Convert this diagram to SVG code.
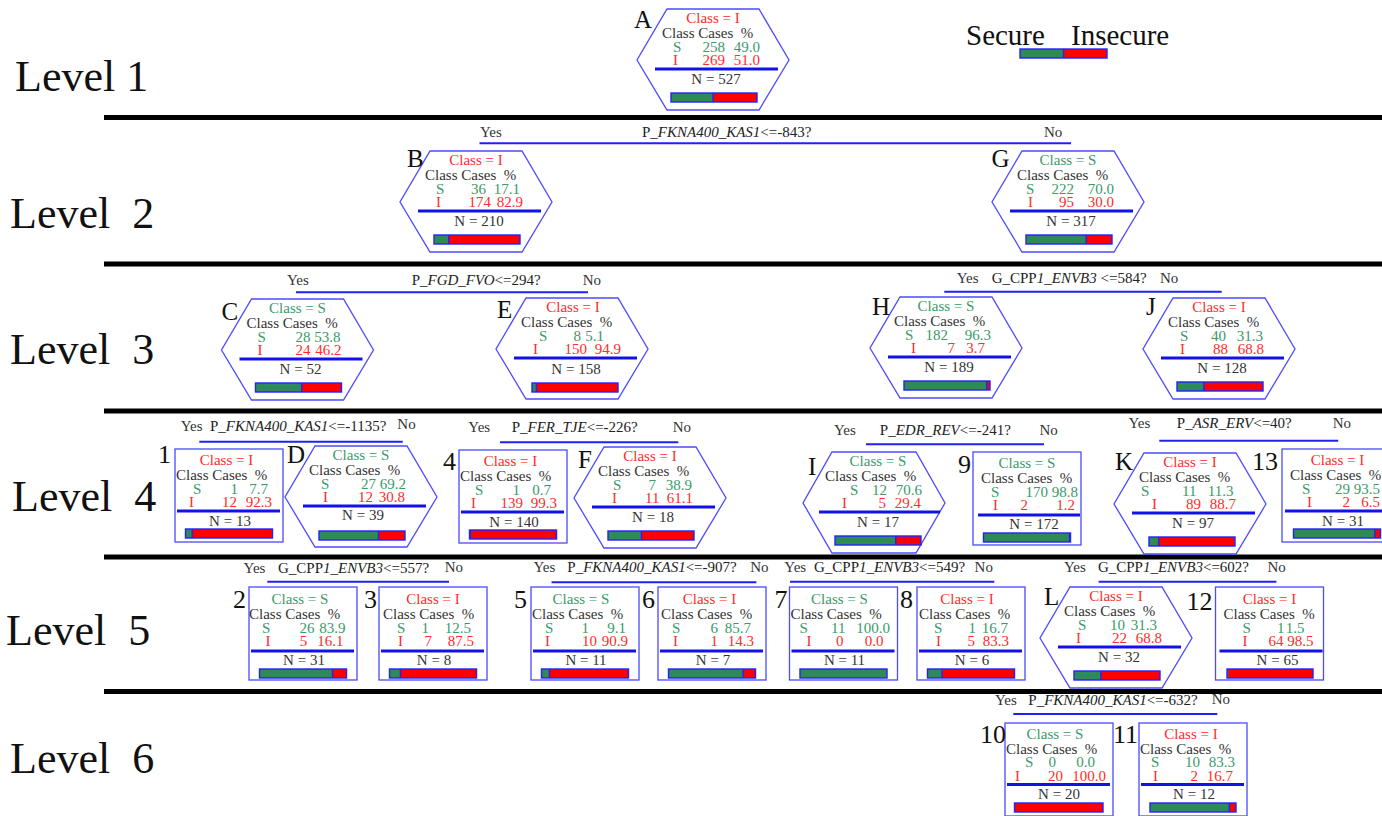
<svg xmlns="http://www.w3.org/2000/svg" xmlns:xlink="http://www.w3.org/1999/xlink" width="1382" height="816" viewBox="0 0 1382 816">
<style>
text{font-family:"Liberation Serif","Times New Roman",serif}
.lvl{font-size:44px;fill:#111}
.t{font-size:15px}
.m{text-anchor:middle}
.cr{fill:#ff2b2b}
.cg{fill:#3a9a6a}
.ck{fill:#333}
.lab{font-size:25px;fill:#111}
.num{font-size:26px;fill:#111}
.hex,.box{fill:#fff;stroke:#4b4bff;stroke-width:1.3}
.sep{stroke:#1212e8;stroke-width:3}
.con{stroke:#2020f0;stroke-width:2}
.band{stroke:#000;stroke-width:5}
.bg{fill:#2e8b57}
.br{fill:#ff0000}
.bo{fill:none;stroke:#2222ff;stroke-width:1.4}
.bd{stroke:#2222ff;stroke-width:1.4}
.cond{font-size:15px;fill:#222}
.yn{font-size:15px;fill:#333}
</style>
<defs>
<polygon id="hx" class="hex" points="-46,0 46,0 76,51 46,101 -46,101 -76,51"/>
<rect id="bx" class="box" x="-54" y="0" width="108" height="93"/>
</defs>
<rect width="1382" height="816" fill="#fff"/>

<g id="levels">
<text class="lvl" x="15" y="91">Level 1</text>
<text class="lvl" x="10" y="228" xml:space="preserve">Level  2</text>
<text class="lvl" x="10" y="364" xml:space="preserve">Level  3</text>
<text class="lvl" x="12" y="511" xml:space="preserve">Level  4</text>
<text class="lvl" x="6" y="645" xml:space="preserve">Level  5</text>
<text class="lvl" x="10" y="773" xml:space="preserve">Level  6</text>
<line class="band" x1="104" y1="117.5" x2="1382" y2="117.5"/>
<line class="band" x1="104" y1="264" x2="1382" y2="264"/>
<line class="band" x1="104" y1="411" x2="1382" y2="411"/>
<line class="band" x1="104" y1="557" x2="1382" y2="557"/>
<line class="band" x1="104" y1="691.5" x2="1382" y2="691.5"/>
</g>

<g id="legend">
<text x="966" y="45" font-size="29" fill="#111">Secure</text>
<text x="1071" y="45" font-size="29" fill="#111">Insecure</text>
<rect class="br" x="1020" y="49" width="87" height="9"/>
<rect class="bg" x="1020" y="49" width="43.5" height="9"/>
<line class="bd" x1="1063.5" y1="49" x2="1063.5" y2="58"/>
<rect class="bo" x="1020" y="49" width="87" height="9"/>
</g>

<g id="connectors">
<line class="con" x1="479.5" y1="143.3" x2="1071" y2="143.3"/>
<text class="yn" x="480" y="137">Yes</text><text class="yn" x="1044" y="137">No</text>
<text class="cond" x="642" y="137">P_<tspan font-style="italic">FKNA400_KAS1</tspan>&lt;=-843?</text>

<line class="con" x1="296" y1="292.3" x2="588" y2="292.3"/>
<text class="yn" x="287" y="285">Yes</text><text class="yn" x="582.7" y="285">No</text>
<text class="cond" x="411.7" y="285">P_<tspan font-style="italic">FGD_FVO</tspan>&lt;=294?</text>

<line class="con" x1="944.3" y1="291.7" x2="1221.7" y2="291.7"/>
<text class="yn" x="956.7" y="283">Yes</text><text class="yn" x="1160" y="283">No</text>
<text class="cond" x="991.7" y="283" xml:space="preserve">G_CPP<tspan font-style="italic">1_ENVB3</tspan> &lt;=584?</text>

<line class="con" x1="199.3" y1="441.7" x2="402.7" y2="441.7"/>
<text class="yn" x="180.7" y="431">Yes</text><text class="yn" x="397.3" y="429.3">No</text>
<text class="cond" x="210" y="431">P_<tspan font-style="italic">FKNA400_KAS1</tspan>&lt;=-1135?</text>

<line class="con" x1="500" y1="442.3" x2="678.3" y2="442.3"/>
<text class="yn" x="468.3" y="432">Yes</text><text class="yn" x="672.7" y="432">No</text>
<text class="cond" x="511.7" y="432">P_<tspan font-style="italic">FER_TJE</tspan>&lt;=-226?</text>

<line class="con" x1="866" y1="444.3" x2="1044" y2="444.3"/>
<text class="yn" x="834" y="435">Yes</text><text class="yn" x="1039.4" y="435">No</text>
<text class="cond" x="879.8" y="435">P_<tspan font-style="italic">EDR_REV</tspan>&lt;=-241?</text>

<line class="con" x1="1159.3" y1="440.7" x2="1338.2" y2="440.7"/>
<text class="yn" x="1128.5" y="428.3">Yes</text><text class="yn" x="1332.7" y="428.3">No</text>
<text class="cond" x="1176.8" y="428.3">P_<tspan font-style="italic">ASR_ERV</tspan>&lt;=40?</text>

<line class="con" x1="267.3" y1="581.7" x2="449" y2="581.7"/>
<text class="yn" x="243.6" y="573">Yes</text><text class="yn" x="444.7" y="572">No</text>
<text class="cond" x="278" y="573">G_CPP<tspan font-style="italic">1_ENVB3</tspan>&lt;=557?</text>

<line class="con" x1="551.6" y1="582.3" x2="756.4" y2="582.3"/>
<text class="yn" x="533.5" y="572">Yes</text><text class="yn" x="750.2" y="572">No</text>
<text class="cond" x="567.3" y="572">P_<tspan font-style="italic">FKNA400_KAS1</tspan>&lt;=-907?</text>

<line class="con" x1="790" y1="581.7" x2="994.3" y2="581.7"/>
<text class="yn" x="784.3" y="572">Yes</text><text class="yn" x="974.6" y="572">No</text>
<text class="cond" x="814" y="572">G_CPP<tspan font-style="italic">1_ENVB3</tspan>&lt;=549?</text>

<line class="con" x1="1098.6" y1="581.7" x2="1276.4" y2="581.7"/>
<text class="yn" x="1064" y="572">Yes</text><text class="yn" x="1267.5" y="572">No</text>
<text class="cond" x="1097.9" y="572">G_CPP<tspan font-style="italic">1_ENVB3</tspan>&lt;=602?</text>

<line class="con" x1="1013.3" y1="714" x2="1217.3" y2="714"/>
<text class="yn" x="995" y="705">Yes</text><text class="yn" x="1211.7" y="704">No</text>
<text class="cond" x="1028.3" y="705">P_<tspan font-style="italic">FKNA400_KAS1</tspan>&lt;=-632?</text>
</g>

<!-- hexagon nodes -->
<g id="node-A" transform="translate(713,9)">
<use xlink:href="#hx"/>
<text class="lab" x="-79" y="19">A</text>
<text class="t cr m" x="0" y="14">Class = I</text>
<text class="t ck" x="-51" y="29" xml:space="preserve">Class Cases  %</text>
<text class="t cg" y="43"><tspan x="-40">S</tspan><tspan x="-10.5">258</tspan><tspan x="20.75">49.0</tspan></text>
<text class="t cr" y="56"><tspan x="-40">I</tspan><tspan x="-10.5">269</tspan><tspan x="20.75">51.0</tspan></text>
<line class="sep" x1="-58" y1="60" x2="65" y2="60"/>
<text class="t ck m" x="3" y="75">N = 527</text>
<rect class="br" x="-42" y="84" width="86" height="9"/><rect class="bg" x="-42" y="84" width="42.1" height="9"/><line class="bd" x1="0.1" y1="84" x2="0.1" y2="93"/><rect class="bo" x="-42" y="84" width="86" height="9"/>
</g>

<g id="node-B" transform="translate(476,151)">
<use xlink:href="#hx"/>
<text class="lab" x="-69" y="16">B</text>
<text class="t cr m" x="0" y="14">Class = I</text>
<text class="t ck" x="-51" y="29" xml:space="preserve">Class Cases  %</text>
<text class="t cg" y="43"><tspan x="-40">S</tspan><tspan x="-5">36</tspan><tspan x="17.75">17.1</tspan></text>
<text class="t cr" y="56"><tspan x="-40">I</tspan><tspan x="-7.5">174</tspan><tspan x="20.75">82.9</tspan></text>
<line class="sep" x1="-58" y1="60" x2="65" y2="60"/>
<text class="t ck m" x="3" y="75">N = 210</text>
<rect class="br" x="-42" y="84" width="86" height="9"/><rect class="bg" x="-42" y="84" width="14.7" height="9"/><line class="bd" x1="-27.3" y1="84" x2="-27.3" y2="93"/><rect class="bo" x="-42" y="84" width="86" height="9"/>
</g>

<g id="node-G" transform="translate(1068,151)">
<use xlink:href="#hx"/>
<text class="lab" x="-76.5" y="16">G</text>
<text class="t cg m" x="0" y="14">Class = S</text>
<text class="t ck" x="-51" y="29" xml:space="preserve">Class Cases  %</text>
<text class="t cg" y="43"><tspan x="-42">S</tspan><tspan x="-16.5">222</tspan><tspan x="19.75">70.0</tspan></text>
<text class="t cr" y="56"><tspan x="-40">I</tspan><tspan x="-9">95</tspan><tspan x="19.75">30.0</tspan></text>
<line class="sep" x1="-58" y1="60" x2="65" y2="60"/>
<text class="t ck m" x="3" y="75">N = 317</text>
<rect class="br" x="-42" y="84" width="86" height="9"/><rect class="bg" x="-42" y="84" width="60.2" height="9"/><line class="bd" x1="18.2" y1="84" x2="18.2" y2="93"/><rect class="bo" x="-42" y="84" width="86" height="9"/>
</g>

<g id="node-C" transform="translate(297.5,299)">
<use xlink:href="#hx"/>
<text class="lab" x="-76" y="21">C</text>
<text class="t cg m" x="0" y="14">Class = S</text>
<text class="t ck" x="-51" y="29" xml:space="preserve">Class Cases  %</text>
<text class="t cg" y="43"><tspan x="-40">S</tspan><tspan x="-2">28</tspan><tspan x="16.75">53.8</tspan></text>
<text class="t cr" y="56"><tspan x="-40">I</tspan><tspan x="-2">24</tspan><tspan x="17.75">46.2</tspan></text>
<line class="sep" x1="-58" y1="60" x2="65" y2="60"/>
<text class="t ck m" x="3" y="75">N = 52</text>
<rect class="br" x="-42" y="84" width="86" height="9"/><rect class="bg" x="-42" y="84" width="46.3" height="9"/><line class="bd" x1="4.3" y1="84" x2="4.3" y2="93"/><rect class="bo" x="-42" y="84" width="86" height="9"/>
</g>

<g id="node-E" transform="translate(572,298)">
<use xlink:href="#hx"/>
<text class="lab" x="-75" y="20">E</text>
<text class="t cr m" x="1" y="14">Class = I</text>
<text class="t ck" x="-51" y="29" xml:space="preserve">Class Cases  %</text>
<text class="t cg" y="43"><tspan x="-33">S</tspan><tspan x="1.5">8</tspan><tspan x="13.25">5.1</tspan></text>
<text class="t cr" y="56"><tspan x="-39">I</tspan><tspan x="-7.5">150</tspan><tspan x="22.75">94.9</tspan></text>
<line class="sep" x1="-58" y1="60" x2="65" y2="60"/>
<text class="t ck m" x="4" y="76">N = 158</text>
<rect class="br" x="-40" y="85" width="86" height="9"/><rect class="bg" x="-40" y="85" width="4.4" height="9"/><line class="bd" x1="-35.6" y1="85" x2="-35.6" y2="94"/><rect class="bo" x="-40" y="85" width="86" height="9"/>
</g>

<g id="node-H" transform="translate(946,297)">
<use xlink:href="#hx"/>
<text class="lab" x="-74" y="18">H</text>
<text class="t cg m" x="0" y="14">Class = S</text>
<text class="t ck" x="-52" y="29" xml:space="preserve">Class Cases  %</text>
<text class="t cg" y="43"><tspan x="-41">S</tspan><tspan x="-20.5">182</tspan><tspan x="18.75">96.3</tspan></text>
<text class="t cr" y="56"><tspan x="-35">I</tspan><tspan x="1.5">7</tspan><tspan x="20.25">3.7</tspan></text>
<line class="sep" x1="-58" y1="60" x2="65" y2="60"/>
<text class="t ck m" x="3" y="75">N = 189</text>
<rect class="br" x="-42" y="84" width="86" height="9"/><rect class="bg" x="-42" y="84" width="82.8" height="9"/><line class="bd" x1="40.8" y1="84" x2="40.8" y2="93"/><rect class="bo" x="-42" y="84" width="86" height="9"/>
</g>

<g id="node-J" transform="translate(1219,298)">
<use xlink:href="#hx"/>
<text class="lab" x="-73" y="17">J</text>
<text class="t cr m" x="0" y="14">Class = I</text>
<text class="t ck" x="-51" y="29" xml:space="preserve">Class Cases  %</text>
<text class="t cg" y="43"><tspan x="-39">S</tspan><tspan x="-8">40</tspan><tspan x="17.75">31.3</tspan></text>
<text class="t cr" y="56"><tspan x="-39">I</tspan><tspan x="-6">88</tspan><tspan x="18.75">68.8</tspan></text>
<line class="sep" x1="-58" y1="60" x2="65" y2="60"/>
<text class="t ck m" x="3" y="75">N = 128</text>
<rect class="br" x="-42" y="84" width="86" height="9"/><rect class="bg" x="-42" y="84" width="26.9" height="9"/><line class="bd" x1="-15.1" y1="84" x2="-15.1" y2="93"/><rect class="bo" x="-42" y="84" width="86" height="9"/>
</g>

<g id="node-D" transform="translate(361,446)">
<use xlink:href="#hx"/>
<text class="lab" x="-74" y="17">D</text>
<text class="t cg m" x="0" y="14">Class = S</text>
<text class="t ck" x="-52" y="29" xml:space="preserve">Class Cases  %</text>
<text class="t cg" y="43"><tspan x="-40">S</tspan><tspan x="0">27</tspan><tspan x="18.75">69.2</tspan></text>
<text class="t cr" y="56"><tspan x="-38">I</tspan><tspan x="-3">12</tspan><tspan x="17.75">30.8</tspan></text>
<line class="sep" x1="-58" y1="60" x2="65" y2="60"/>
<text class="t ck m" x="2" y="74">N = 39</text>
<rect class="br" x="-42" y="85" width="86" height="9"/><rect class="bg" x="-42" y="85" width="59.5" height="9"/><line class="bd" x1="17.5" y1="85" x2="17.5" y2="94"/><rect class="bo" x="-42" y="85" width="86" height="9"/>
</g>

<g id="node-F" transform="translate(650,447)">
<use xlink:href="#hx"/>
<text class="lab" x="-72" y="21">F</text>
<text class="t cr m" x="0" y="14">Class = I</text>
<text class="t ck" x="-52" y="29" xml:space="preserve">Class Cases  %</text>
<text class="t cg" y="43"><tspan x="-37">S</tspan><tspan x="-1.5">7</tspan><tspan x="15.75">38.9</tspan></text>
<text class="t cr" y="56"><tspan x="-38">I</tspan><tspan x="-5">11</tspan><tspan x="16.75">61.1</tspan></text>
<line class="sep" x1="-58" y1="60" x2="65" y2="60"/>
<text class="t ck m" x="3" y="75">N = 18</text>
<rect class="br" x="-42" y="84" width="86" height="9"/><rect class="bg" x="-42" y="84" width="33.5" height="9"/><line class="bd" x1="-8.5" y1="84" x2="-8.5" y2="93"/><rect class="bo" x="-42" y="84" width="86" height="9"/>
</g>

<g id="node-I" transform="translate(875,452)">
<polygon class="hex" points="-43,0 41,0 70,51 41,101 -43,101 -72,51"/>
<text class="lab" x="-67" y="23">I</text>
<text class="t cg m" x="3" y="14">Class = S</text>
<text class="t ck" x="-50" y="29" xml:space="preserve">Class Cases  %</text>
<text class="t cg" y="43"><tspan x="-25">S</tspan><tspan x="-3">12</tspan><tspan x="20.75">70.6</tspan></text>
<text class="t cr" y="56"><tspan x="-33">I</tspan><tspan x="3.5">5</tspan><tspan x="19.75">29.4</tspan></text>
<line class="sep" x1="-56" y1="60" x2="65" y2="60"/>
<text class="t ck m" x="3" y="75">N = 17</text>
<rect class="br" x="-40" y="84" width="86" height="9"/><rect class="bg" x="-40" y="84" width="60.7" height="9"/><line class="bd" x1="20.7" y1="84" x2="20.7" y2="93"/><rect class="bo" x="-40" y="84" width="86" height="9"/>
</g>

<g id="node-K" transform="translate(1190,453)">
<use xlink:href="#hx"/>
<text class="lab" x="-75" y="17">K</text>
<text class="t cr m" x="0" y="14">Class = I</text>
<text class="t ck" x="-51" y="29" xml:space="preserve">Class Cases  %</text>
<text class="t cg" y="43"><tspan x="-49">S</tspan><tspan x="-8">11</tspan><tspan x="17.75">11.3</tspan></text>
<text class="t cr" y="56"><tspan x="-38">I</tspan><tspan x="-4">89</tspan><tspan x="19.75">88.7</tspan></text>
<line class="sep" x1="-58" y1="60" x2="65" y2="60"/>
<text class="t ck m" x="3" y="75">N = 97</text>
<rect class="br" x="-41" y="84" width="86" height="9"/><rect class="bg" x="-41" y="84" width="9.7" height="9"/><line class="bd" x1="-31.3" y1="84" x2="-31.3" y2="93"/><rect class="bo" x="-41" y="84" width="86" height="9"/>
</g>

<g id="node-L" transform="translate(1116,587)">
<use xlink:href="#hx"/>
<text class="lab" x="-72" y="18">L</text>
<text class="t cr m" x="0" y="14">Class = I</text>
<text class="t ck" x="-52" y="29" xml:space="preserve">Class Cases  %</text>
<text class="t cg" y="43"><tspan x="-38">S</tspan><tspan x="-6">10</tspan><tspan x="14.75">31.3</tspan></text>
<text class="t cr" y="56"><tspan x="-40">I</tspan><tspan x="-4">22</tspan><tspan x="19.75">68.8</tspan></text>
<line class="sep" x1="-58" y1="60" x2="65" y2="60"/>
<text class="t ck m" x="3" y="75">N = 32</text>
<rect class="br" x="-42" y="84" width="86" height="9"/><rect class="bg" x="-42" y="84" width="26.9" height="9"/><line class="bd" x1="-15.1" y1="84" x2="-15.1" y2="93"/><rect class="bo" x="-42" y="84" width="86" height="9"/>
</g>

<!-- rectangular (leaf) nodes -->
<g id="node-1" transform="translate(229,449)">
<use xlink:href="#bx"/>
<text class="num" x="-71" y="14">1</text>
<text class="t cr m" x="-2.5" y="16">Class = I</text>
<text class="t ck" x="-53" y="31" xml:space="preserve">Class Cases  %</text>
<text class="t cg" y="45"><tspan x="-36">S</tspan><tspan x="1.5">1</tspan><tspan x="20.25">7.7</tspan></text>
<text class="t cr" y="57.5"><tspan x="-40">I</tspan><tspan x="-7">12</tspan><tspan x="16.75">92.3</tspan></text>
<line class="sep" x1="-52" y1="62" x2="51" y2="62"/>
<text class="t ck m" x="1" y="76.5">N = 13</text>
<rect class="br" x="-43.5" y="80" width="87" height="9"/><rect class="bg" x="-43.5" y="80" width="6.7" height="9"/><line class="bd" x1="-36.8" y1="80" x2="-36.8" y2="89"/><rect class="bo" x="-43.5" y="80" width="87" height="9"/>
</g>

<g id="node-4" transform="translate(513,450)">
<use xlink:href="#bx"/>
<text class="num" x="-70" y="20">4</text>
<text class="t cr m" x="-2.5" y="16">Class = I</text>
<text class="t ck" x="-53" y="31" xml:space="preserve">Class Cases  %</text>
<text class="t cg" y="45"><tspan x="-38">S</tspan><tspan x="-0.5">1</tspan><tspan x="19.25">0.7</tspan></text>
<text class="t cr" y="57.5"><tspan x="-42">I</tspan><tspan x="-12.5">139</tspan><tspan x="17.75">99.3</tspan></text>
<line class="sep" x1="-52" y1="62" x2="51" y2="62"/>
<text class="t ck m" x="1" y="76.5">N = 140</text>
<rect class="br" x="-43.5" y="80" width="87" height="9"/><rect class="bg" x="-43.5" y="80" width="0.8" height="9"/><line class="bd" x1="-42.7" y1="80" x2="-42.7" y2="89"/><rect class="bo" x="-43.5" y="80" width="87" height="9"/>
</g>

<g id="node-9" transform="translate(1027,452)">
<use xlink:href="#bx"/>
<text class="num" x="-69" y="21">9</text>
<text class="t cg m" x="0" y="16">Class = S</text>
<text class="t ck" x="-46" y="31" xml:space="preserve">Class Cases  %</text>
<text class="t cg" y="45"><tspan x="-36">S</tspan><tspan x="-1.5">170</tspan><tspan x="24.75">98.8</tspan></text>
<text class="t cr" y="57.5"><tspan x="-34">I</tspan><tspan x="-6.5">2</tspan><tspan x="29.25">1.2</tspan></text>
<line class="sep" x1="-49" y1="63" x2="53" y2="63"/>
<text class="t ck m" x="7" y="77">N = 172</text>
<rect class="br" x="-43.5" y="81" width="87" height="9"/><rect class="bg" x="-43.5" y="81" width="86" height="9"/><line class="bd" x1="42.5" y1="81" x2="42.5" y2="90"/><rect class="bo" x="-43.5" y="81" width="87" height="9"/>
</g>

<g id="node-13" transform="translate(1336,449)">
<use xlink:href="#bx"/>
<text class="num" x="-84" y="21">13</text>
<text class="t cr m" x="1.5" y="16">Class = I</text>
<text class="t ck" x="-46" y="31" xml:space="preserve">Class Cases  %</text>
<text class="t cg" y="45"><tspan x="-34">S</tspan><tspan x="-1">29</tspan><tspan x="17.75">93.5</tspan></text>
<text class="t cr" y="57.5"><tspan x="-29">I</tspan><tspan x="6.5">2</tspan><tspan x="25.25">6.5</tspan></text>
<line class="sep" x1="-51" y1="62" x2="52" y2="62"/>
<text class="t ck m" x="7" y="76.5">N = 31</text>
<rect class="br" x="-42.5" y="80" width="87" height="9"/><rect class="bg" x="-42.5" y="80" width="81.3" height="9"/><line class="bd" x1="38.8" y1="80" x2="38.8" y2="89"/><rect class="bo" x="-42.5" y="80" width="87" height="9"/>
</g>

<g id="node-2" transform="translate(303,587)">
<use xlink:href="#bx"/>
<text class="num" x="-70" y="21">2</text>
<text class="t cg m" x="-3" y="17">Class = S</text>
<text class="t ck" x="-54" y="32" xml:space="preserve">Class Cases  %</text>
<text class="t cg" y="46"><tspan x="-41">S</tspan><tspan x="-3.5">26</tspan><tspan x="16.25">83.9</tspan></text>
<text class="t cr" y="58.5"><tspan x="-37.5">I</tspan><tspan x="-3.2">5</tspan><tspan x="14.35">16.1</tspan></text>
<line class="sep" x1="-52" y1="64" x2="51" y2="64"/>
<text class="t ck m" x="1" y="78">N = 31</text>
<rect class="br" x="-43.5" y="82" width="87" height="9"/><rect class="bg" x="-43.5" y="82" width="73" height="9"/><line class="bd" x1="29.5" y1="82" x2="29.5" y2="91"/><rect class="bo" x="-43.5" y="82" width="87" height="9"/>
</g>

<g id="node-3" transform="translate(433,587)">
<use xlink:href="#bx"/>
<text class="num" x="-69" y="21">3</text>
<text class="t cr m" x="0" y="17">Class = I</text>
<text class="t ck" x="-50" y="32" xml:space="preserve">Class Cases  %</text>
<text class="t cg" y="46"><tspan x="-36">S</tspan><tspan x="-11.5">1</tspan><tspan x="11.75">12.5</tspan></text>
<text class="t cr" y="58.5"><tspan x="-35">I</tspan><tspan x="-8.5">7</tspan><tspan x="14.75">87.5</tspan></text>
<line class="sep" x1="-52" y1="64" x2="51" y2="64"/>
<text class="t ck m" x="1" y="78">N = 8</text>
<rect class="br" x="-43.5" y="82" width="87" height="9"/><rect class="bg" x="-43.5" y="82" width="10.9" height="9"/><line class="bd" x1="-32.6" y1="82" x2="-32.6" y2="91"/><rect class="bo" x="-43.5" y="82" width="87" height="9"/>
</g>

<g id="node-5" transform="translate(585,587)">
<use xlink:href="#bx"/>
<text class="num" x="-71" y="21">5</text>
<text class="t cg m" x="-4" y="17">Class = S</text>
<text class="t ck" x="-53" y="32" xml:space="preserve">Class Cases  %</text>
<text class="t cg" y="46"><tspan x="-40">S</tspan><tspan x="-3.5">1</tspan><tspan x="22.25">9.1</tspan></text>
<text class="t cr" y="58.5"><tspan x="-40">I</tspan><tspan x="-3">10</tspan><tspan x="16.75">90.9</tspan></text>
<line class="sep" x1="-52" y1="64" x2="51" y2="64"/>
<text class="t ck m" x="1" y="78">N = 11</text>
<rect class="br" x="-43.5" y="82" width="87" height="9"/><rect class="bg" x="-43.5" y="82" width="7.9" height="9"/><line class="bd" x1="-35.6" y1="82" x2="-35.6" y2="91"/><rect class="bo" x="-43.5" y="82" width="87" height="9"/>
</g>

<g id="node-6" transform="translate(712,587)">
<use xlink:href="#bx"/>
<text class="num" x="-70" y="21">6</text>
<text class="t cr m" x="-2.5" y="17">Class = I</text>
<text class="t ck" x="-51" y="32" xml:space="preserve">Class Cases  %</text>
<text class="t cg" y="46"><tspan x="-40">S</tspan><tspan x="-1.5">6</tspan><tspan x="12.75">85.7</tspan></text>
<text class="t cr" y="58.5"><tspan x="-39">I</tspan><tspan x="-1.5">1</tspan><tspan x="15.75">14.3</tspan></text>
<line class="sep" x1="-52" y1="64" x2="51" y2="64"/>
<text class="t ck m" x="1" y="78">N = 7</text>
<rect class="br" x="-43.5" y="82" width="87" height="9"/><rect class="bg" x="-43.5" y="82" width="74.6" height="9"/><line class="bd" x1="31.1" y1="82" x2="31.1" y2="91"/><rect class="bo" x="-43.5" y="82" width="87" height="9"/>
</g>

<g id="node-7" transform="translate(843.5,587)">
<use xlink:href="#bx"/>
<text class="num" x="-69" y="21">7</text>
<text class="t cg m" x="-4" y="17">Class = S</text>
<text class="t ck" x="-53" y="32" xml:space="preserve">Class Cases  %</text>
<text class="t cg" y="46"><tspan x="-44">S</tspan><tspan x="-12.5">11</tspan><tspan x="12.75">100.0</tspan></text>
<text class="t cr" y="58.5"><tspan x="-37">I</tspan><tspan x="-7.5">0</tspan><tspan x="21.25">0.0</tspan></text>
<line class="sep" x1="-52" y1="64" x2="51" y2="64"/>
<text class="t ck m" x="1" y="78">N = 11</text>
<rect class="bg" x="-43.5" y="82" width="87" height="9"/><rect class="bo" x="-43.5" y="82" width="87" height="9"/>
</g>

<g id="node-8" transform="translate(971,587)">
<use xlink:href="#bx"/>
<text class="num" x="-71" y="21">8</text>
<text class="t cr m" x="-4" y="17">Class = I</text>
<text class="t ck" x="-52" y="32" xml:space="preserve">Class Cases  %</text>
<text class="t cg" y="46"><tspan x="-37">S</tspan><tspan x="-2.5">1</tspan><tspan x="10.75">16.7</tspan></text>
<text class="t cr" y="58.5"><tspan x="-35">I</tspan><tspan x="-3.5">5</tspan><tspan x="11.75">83.3</tspan></text>
<line class="sep" x1="-52" y1="64" x2="51" y2="64"/>
<text class="t ck m" x="1" y="78">N = 6</text>
<rect class="br" x="-43.5" y="82" width="87" height="9"/><rect class="bg" x="-43.5" y="82" width="14.5" height="9"/><line class="bd" x1="-29" y1="82" x2="-29" y2="91"/><rect class="bo" x="-43.5" y="82" width="87" height="9"/>
</g>

<g id="node-12" transform="translate(1269.5,587)">
<use xlink:href="#bx"/>
<text class="num" x="-83" y="23">12</text>
<text class="t cr m" x="0" y="17">Class = I</text>
<text class="t ck" x="-46" y="32" xml:space="preserve">Class Cases  %</text>
<text class="t cg" y="46"><tspan x="-27">S</tspan><tspan x="7.5">1</tspan><tspan x="16.25">1.5</tspan></text>
<text class="t cr" y="58.5"><tspan x="-27">I</tspan><tspan x="-1">64</tspan><tspan x="17.75">98.5</tspan></text>
<line class="sep" x1="-50" y1="64" x2="53" y2="64"/>
<text class="t ck m" x="8" y="78">N = 65</text>
<rect class="br" x="-42.5" y="82" width="86" height="9"/><rect class="bg" x="-42.5" y="82" width="1.3" height="9"/><rect class="bo" x="-42.5" y="82" width="86" height="9"/>
</g>

<g id="node-10" transform="translate(1059,723)">
<use xlink:href="#bx"/>
<text class="num" x="-79" y="20">10</text>
<text class="t cg m" x="-4" y="15.5">Class = S</text>
<text class="t ck" x="-53" y="30.5" xml:space="preserve">Class Cases  %</text>
<text class="t cg" y="43.5"><tspan x="-34">S</tspan><tspan x="-10.5">0</tspan><tspan x="17.25">0.0</tspan></text>
<text class="t cr" y="57.5"><tspan x="-44">I</tspan><tspan x="-11">20</tspan><tspan x="13.25">100.0</tspan></text>
<line class="sep" x1="-52" y1="61.5" x2="51" y2="61.5"/>
<text class="t ck m" x="0" y="75.5">N = 20</text>
<rect class="br" x="-44.5" y="80" width="88.5" height="9"/><rect class="bo" x="-44.5" y="80" width="88.5" height="9"/>
</g>

<g id="node-11" transform="translate(1193,723)">
<use xlink:href="#bx"/>
<text class="num" x="-80" y="20">11</text>
<text class="t cr m" x="-2" y="15.5">Class = I</text>
<text class="t ck" x="-53" y="30.5" xml:space="preserve">Class Cases  %</text>
<text class="t cg" y="43.5"><tspan x="-42">S</tspan><tspan x="-8">10</tspan><tspan x="15.75">83.3</tspan></text>
<text class="t cr" y="57.5"><tspan x="-40">I</tspan><tspan x="-2.5">2</tspan><tspan x="13.75">16.7</tspan></text>
<line class="sep" x1="-52" y1="61.5" x2="51" y2="61.5"/>
<text class="t ck m" x="1" y="75.5">N = 12</text>
<rect class="br" x="-43" y="80" width="86" height="9"/><rect class="bg" x="-43" y="80" width="79.3" height="9"/><line class="bd" x1="36.3" y1="80" x2="36.3" y2="89"/><rect class="bo" x="-43" y="80" width="86" height="9"/>
</g>
</svg>
